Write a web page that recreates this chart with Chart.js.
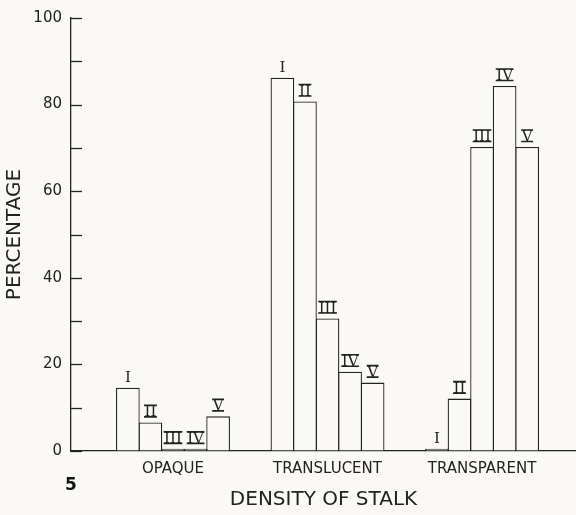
<!DOCTYPE html>
<html>
<head>
<meta charset="utf-8">
<script src="https://cdn.jsdelivr.net/npm/chart.js@4.4.1/dist/chart.umd.min.js"></script>
<style>
  html, body { margin: 0; padding: 0; background: #fbf9f6; }
  #wrap { width: 576px; height: 515px; position: relative; }
</style>
</head>
<body>
<div id="wrap"><canvas id="grafico"></canvas></div>
<script>
// densidade do pedúnculo - percentagem por estágio (I a V)
const grupos = ['OPAQUE', 'TRANSLUCENT', 'TRANSPARENT'];
const estagios = ['I', 'II', 'III', 'IV', 'V'];

const estagioI = [14.6, 86.2, 0.5];
const estagioII = [6.6, 80.7, 12.1];
const estagioIII = [0.5, 30.6, 70.2];
const estagioIV = [0.5, 18.3, 84.3];
const estagioV = [8.0, 15.8, 70.2];

const marcasY = [0, 10, 20, 30, 40, 50, 60, 70, 80, 90, 100];
const rotulosY = [0, 20, 40, 60, 80, 100];

const tinta = '#222';
const fundo = '#fbf9f6';
const fonteSans = '"DejaVu Sans", sans-serif';

const series = [estagioI, estagioII, estagioIII, estagioIV, estagioV];

// marcas do eixo Y voltadas para dentro
const marcasInternas = {
  id: 'marcasInternas',
  afterDraw(chart) {
    const { ctx, scales: { y }, chartArea } = chart;
    ctx.save();
    ctx.strokeStyle = tinta;
    ctx.lineWidth = 1.3;
    marcasY.forEach(v => {
      const py = Math.round(y.getPixelForValue(v)) + 0.5;
      ctx.beginPath();
      ctx.moveTo(chartArea.left, py);
      ctx.lineTo(chartArea.left + 11, py);
      ctx.stroke();
    });
    ctx.restore();
  }
};

// numerais romanos acima das barras
const numerais = {
  id: 'numerais',
  afterDatasetsDraw(chart) {
    const { ctx } = chart;
    ctx.save();
    ctx.fillStyle = tinta;
    ctx.strokeStyle = tinta;
    ctx.lineWidth = 1.6;
    ctx.font = '15px "DejaVu Serif", serif';
    ctx.textAlign = 'center';
    ctx.textBaseline = 'alphabetic';
    chart.data.datasets.forEach((ds, i) => {
      const meta = chart.getDatasetMeta(i);
      meta.data.forEach(el => {
        const base = el.y - 6;
        const txt = ds.label;
        ctx.fillText(txt, el.x, base);
        if (txt !== 'I') {
          const w = ctx.measureText(txt).width + 1;
          ctx.beginPath();
          ctx.moveTo(el.x - w / 2, base - 11);
          ctx.lineTo(el.x + w / 2, base - 11);
          ctx.moveTo(el.x - w / 2, base + 0.5);
          ctx.lineTo(el.x + w / 2, base + 0.5);
          ctx.stroke();
        }
      });
    });
    ctx.restore();
  }
};

// número da figura
const numeroFigura = {
  id: 'numeroFigura',
  afterDraw(chart) {
    const { ctx } = chart;
    ctx.save();
    ctx.fillStyle = '#111';
    ctx.font = 'bold 17px "DejaVu Sans", sans-serif';
    ctx.textAlign = 'center';
    ctx.textBaseline = 'middle';
    ctx.fillText('5', 71, 486);
    ctx.restore();
  }
};

const ctx = document.getElementById('grafico');

new Chart(ctx, {
  type: 'bar',
  data: {
    datasets: series.map((valores, i) => ({
      label: estagios[i],
      data: valores.map((v, j) => ({ x: j, y: v })),
      backgroundColor: fundo,
      borderColor: tinta,
      borderWidth: 1.3,
      categoryPercentage: 0.73,
      barPercentage: 1.05
    }))
  },
  options: {
    responsive: true,
    maintainAspectRatio: false,
    animation: false,
    layout: { padding: { top: 12, left: 0, right: 0, bottom: 0 } },
    plugins: {
      legend: { display: false },
      tooltip: { enabled: false }
    },
    scales: {
      x: {
        type: 'linear',
        offset: false,
        min: -0.66,
        max: 2.608,
        afterBuildTicks: scale => {
          scale.ticks = grupos.map((g, i) => ({ value: i }));
        },
        afterFit: scale => { scale.height = 64; },
        grid: { drawOnChartArea: false, drawTicks: false },
        border: { display: true, color: tinta, width: 1.3 },
        ticks: {
          padding: 9,
          color: tinta,
          font: { family: fonteSans, size: 15 },
          autoSkip: false,
          maxRotation: 0,
          callback: v => grupos[v] || ''
        },
        title: {
          display: true,
          text: 'DENSITY OF STALK',
          color: tinta,
          font: { family: fonteSans, size: 20 },
          padding: { top: 0, bottom: 3 }
        }
      },
      y: {
        min: 0,
        max: 100,
        afterBuildTicks: scale => {
          scale.ticks = marcasY.map(v => ({ value: v }));
        },
        afterFit: scale => { scale.width = 71; },
        grid: { drawOnChartArea: false, drawTicks: false },
        border: { display: true, color: tinta, width: 1.3 },
        ticks: {
          padding: 9,
          color: tinta,
          font: { family: fonteSans, size: 15 },
          autoSkip: false,
          callback: v => rotulosY.includes(v) ? String(v) : ''
        },
        title: {
          display: true,
          text: 'PERCENTAGE',
          color: tinta,
          font: { family: fonteSans, size: 20 },
          padding: { top: 3, bottom: 0 }
        }
      }
    }
  },
  plugins: [marcasInternas, numerais, numeroFigura]
});
</script>
</body>
</html>
